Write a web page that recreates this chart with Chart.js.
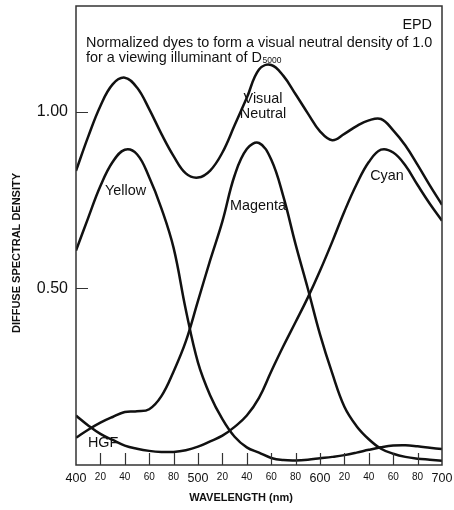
<!DOCTYPE html>
<html>
<head>
<meta charset="utf-8">
<script src="https://cdn.jsdelivr.net/npm/chart.js@4.4.0/dist/chart.umd.min.js"></script>
<style>
  html, body { margin: 0; padding: 0; background: #fff; }
</style>
</head>
<body>
<canvas id="dye-chart" width="454" height="510"></canvas>
<script>
// wavelength (nm) every 10 nm, densities
const wavelengths = [400, 410, 420, 430, 440, 450, 460, 470, 480, 490, 500,
                     510, 520, 530, 540, 550, 560, 570, 580, 590, 600,
                     610, 620, 630, 640, 650, 660, 670, 680, 690, 700];

const visualNeutral = [0.833, 0.930, 1.017, 1.078, 1.097, 1.069, 1.008, 0.938, 0.875, 0.826, 0.814,
                       0.834, 0.885, 0.962, 1.040, 1.120, 1.133, 1.102, 1.050, 0.996, 0.945,
                       0.920, 0.938, 0.960, 0.976, 0.980, 0.948, 0.905, 0.850, 0.792, 0.737];

const yellow = [0.607, 0.700, 0.790, 0.858, 0.893, 0.880, 0.815, 0.727, 0.615, 0.440, 0.290,
                0.197, 0.130, 0.080, 0.050, 0.035, 0.020, 0.014, 0.013, 0.015, 0.019,
                0.023, 0.028, 0.035, 0.043, 0.050, 0.055, 0.056, 0.053, 0.049, 0.045];

const magenta = [0.077, 0.100, 0.120, 0.136, 0.150, 0.152, 0.158, 0.195, 0.265, 0.350, 0.465,
                 0.580, 0.690, 0.820, 0.895, 0.912, 0.865, 0.760, 0.625, 0.500, 0.370,
                 0.260, 0.165, 0.110, 0.073, 0.046, 0.032, 0.023, 0.018, 0.015, 0.012];

const cyan = [0.140, 0.112, 0.088, 0.071, 0.055, 0.046, 0.040, 0.037, 0.037, 0.042, 0.052,
              0.067, 0.083, 0.108, 0.140, 0.190, 0.265, 0.337, 0.405, 0.474, 0.550,
              0.632, 0.718, 0.795, 0.858, 0.893, 0.885, 0.848, 0.793, 0.740, 0.692];

const xTickValues = [400, 420, 440, 460, 480, 500, 520, 540, 560, 580, 600, 620, 640, 660, 680, 700];
const yTickValues = [0.5, 1.0];

const FONT = "'Liberation Sans', Arial, Helvetica, sans-serif";
const INK = "#111";
const LABEL_FONT = "14.4px " + FONT;

// text placed inside the plot, in data units
const annotations = [
  { text: "EPD", x: 691.8, y: 1.246, align: "right" },
  { text: "Normalized dyes to form a visual neutral density of 1.0", x: 408.2, y: 1.195, align: "left" },
  { text: "for a viewing illuminant of D", sub: "5000", x: 408.2, y: 1.153, align: "left" },
  { text: "Visual", x: 553.3, y: 1.037, align: "center" },
  { text: "Neutral", x: 553.3, y: 0.994, align: "center" },
  { text: "Yellow", x: 423.8, y: 0.777, align: "left" },
  { text: "Magenta", x: 526.2, y: 0.734, align: "left" },
  { text: "Cyan", x: 654.9, y: 0.819, align: "center" },
  { text: "HGF", x: 409.8, y: 0.062, align: "left" }
];

function toPoints(values) {
  return wavelengths.map((w, i) => ({ x: w, y: values[i] }));
}

const curve = {
  borderColor: INK,
  borderWidth: 2.5,
  pointRadius: 0,
  fill: false,
  tension: 0.4
};

const framePlugin = {
  id: "frame",
  afterDraw(chart) {
    const { ctx, chartArea: a, scales: { x, y } } = chart;
    ctx.save();

    // box round the plot
    ctx.strokeStyle = "#333";
    ctx.lineWidth = 1.5;
    ctx.strokeRect(a.left, a.top, a.right - a.left, a.bottom - a.top);

    // inward tick marks
    ctx.lineWidth = 1.2;
    ctx.beginPath();
    xTickValues.slice(1, -1).forEach(v => {
      const px = Math.round(x.getPixelForValue(v)) + 0.5;
      ctx.moveTo(px, a.bottom);
      ctx.lineTo(px, a.bottom - 12);
    });
    yTickValues.forEach(v => {
      const py = Math.round(y.getPixelForValue(v)) + 0.5;
      ctx.moveTo(a.left, py);
      ctx.lineTo(a.left + 12, py);
    });
    ctx.stroke();

    // axis titles
    ctx.fillStyle = INK;
    ctx.font = "bold 11px " + FONT;
    ctx.textAlign = "center";
    ctx.textBaseline = "middle";
    ctx.fillText("WAVELENGTH (nm)", 241, 498);
    ctx.save();
    ctx.translate(17, 253);
    ctx.rotate(-Math.PI / 2);
    ctx.fillText("DIFFUSE SPECTRAL DENSITY", 0, 0);
    ctx.restore();

    // labels inside the plot
    ctx.font = LABEL_FONT;
    annotations.forEach(n => {
      const px = x.getPixelForValue(n.x);
      const py = y.getPixelForValue(n.y);
      ctx.textAlign = n.align;
      ctx.fillText(n.text, px, py);
      if (n.sub) {
        const w = ctx.measureText(n.text).width;
        ctx.font = "8.5px " + FONT;
        ctx.textAlign = "left";
        ctx.fillText(n.sub, px + w + 0.5, py + 3);
        ctx.font = LABEL_FONT;
      }
    });

    ctx.restore();
  }
};

new Chart(document.getElementById("dye-chart"), {
  type: "line",
  data: {
    datasets: [
      { label: "Visual Neutral", data: toPoints(visualNeutral), ...curve },
      { label: "Yellow", data: toPoints(yellow), ...curve },
      { label: "Magenta", data: toPoints(magenta), ...curve },
      { label: "Cyan", data: toPoints(cyan), ...curve }
    ]
  },
  options: {
    responsive: false,
    animation: false,
    layout: { autoPadding: false, padding: { top: 6, right: 12, left: 0, bottom: 0 } },
    plugins: {
      legend: { display: false },
      tooltip: { enabled: false }
    },
    scales: {
      x: {
        type: "linear",
        min: 400,
        max: 700,
        afterBuildTicks: axis => { axis.ticks = xTickValues.map(v => ({ value: v })); },
        afterFit: axis => {
          axis.height = 45;
          axis.paddingLeft = 0;
          axis.paddingRight = 0;
        },
        grid: { display: false, drawTicks: false },
        border: { display: false },
        ticks: {
          autoSkip: false,
          maxRotation: 0,
          padding: 6,
          color: INK,
          callback: v => (v % 100 === 0 ? String(v) : String(v % 100)),
          font: c => ({ family: FONT, size: c.tick && c.tick.value % 100 === 0 ? 12.5 : 10 })
        }
      },
      y: {
        min: 0,
        max: 1.3,
        afterBuildTicks: axis => { axis.ticks = yTickValues.map(v => ({ value: v })); },
        afterFit: axis => {
          axis.width = 76;
          axis.paddingTop = 0;
          axis.paddingBottom = 0;
        },
        grid: { display: false, drawTicks: false },
        border: { display: false },
        ticks: {
          padding: 8,
          color: INK,
          font: { family: FONT, size: 16 },
          callback: v => v.toFixed(2)
        }
      }
    }
  },
  plugins: [framePlugin]
});
</script>
</body>
</html>
